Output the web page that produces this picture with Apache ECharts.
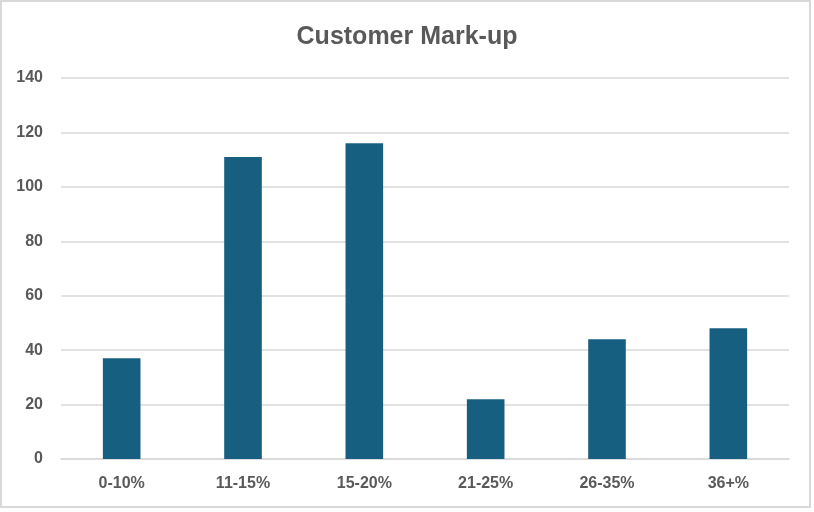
<!DOCTYPE html>
<html>
<head>
<meta charset="utf-8">
<script src="https://cdn.jsdelivr.net/npm/echarts@6/dist/echarts.min.js"></script>
<style>
html,body{margin:0;padding:0;background:#fff;}
#frame{position:absolute;left:0;top:0;width:807px;height:504px;border:2px solid #d9d9d9;}
#chart{position:absolute;left:0;top:0;width:814px;height:512px;}
</style>
</head>
<body>
<div id="frame"></div>
<div id="chart"></div>
<script>
const categories = ['0-10%', '11-15%', '15-20%', '21-25%', '26-35%', '36+%'];
const customerCounts = [37, 111, 116, 22, 44, 48];
const yTicks = { min: 0, max: 140, interval: 20 };

const chart = echarts.init(document.getElementById('chart'), null, { renderer: 'canvas' });
const font = '"Liberation Sans", Arial, sans-serif';
chart.setOption({
  animation: false,
  backgroundColor: 'transparent',
  title: {
    text: 'Customer Mark-up',
    left: 'center',
    top: 20,
    textStyle: { fontFamily: font, fontSize: 25, fontWeight: 'bold', color: '#595959' }
  },
  grid: { left: 61, right: 25, top: 78, bottom: 53, containLabel: false },
  xAxis: {
    type: 'category',
    data: categories,
    axisLine: { show: true, lineStyle: { color: '#d9d9d9', width: 1.5 } },
    axisTick: { show: false },
    axisLabel: { fontFamily: font, fontSize: 16, fontWeight: 'bold', color: '#595959', margin: 17 }
  },
  yAxis: {
    type: 'value',
    min: yTicks.min,
    max: yTicks.max,
    interval: yTicks.interval,
    axisLine: { show: false },
    axisTick: { show: false },
    splitLine: { lineStyle: { color: '#d9d9d9', width: 1.5 } },
    axisLabel: { fontFamily: font, fontSize: 16, fontWeight: 'bold', color: '#595959', margin: 18 }
  },
  series: [{
    type: 'bar',
    data: customerCounts,
    barWidth: '31%',
    itemStyle: { color: '#175f80' }
  }]
});
</script>
</body>
</html>
